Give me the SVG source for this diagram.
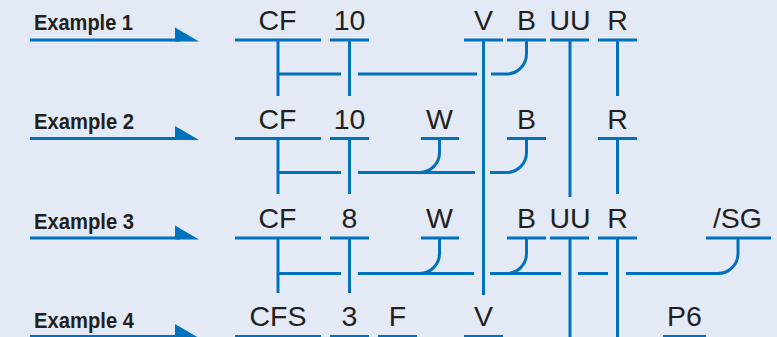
<svg xmlns="http://www.w3.org/2000/svg" width="777" height="337" viewBox="0 0 777 337">
<style>
.bg{fill:#e3e9f5}
.ln{fill:none;stroke:#0071bc;stroke-width:3;stroke-linecap:butt}
.ah{fill:#0071bc}
.ex{font-family:"Liberation Sans Narrow","Liberation Sans",Arial,sans-serif;font-weight:bold;font-size:22.5px;fill:#231f20}
.el{font-family:"Liberation Sans",Arial,Helvetica,sans-serif;font-size:28.5px;fill:#231f20;text-anchor:middle}
</style>
<rect class="bg" x="0" y="0" width="777" height="337"/>

<g id="example1">
<text class="ex" x="34" y="30" textLength="99" lengthAdjust="spacingAndGlyphs">Example 1</text>
<path class="ln" d="M30,40 H180"/><polygon class="ah" points="175,27.5 199,41.5 175,41.5"/>
</g>
<g id="example2">
<text class="ex" x="34" y="129" textLength="100" lengthAdjust="spacingAndGlyphs">Example 2</text>
<path class="ln" d="M30,138.5 H180"/><polygon class="ah" points="175,126 199,140 175,140"/>
</g>
<g id="example3">
<text class="ex" x="34" y="228.5" textLength="100" lengthAdjust="spacingAndGlyphs">Example 3</text>
<path class="ln" d="M30,238 H180"/><polygon class="ah" points="175,225.5 199,239.5 175,239.5"/>
</g>
<g id="example4">
<text class="ex" x="34" y="327.5" textLength="100" lengthAdjust="spacingAndGlyphs">Example 4</text>
<path class="ln" d="M30,336.5 H180"/><polygon class="ah" points="175,324 199,338 175,338"/>
</g>

<!-- Row 1 -->
<g id="r1-CF"><text class="el" x="277.5" y="29.5">CF</text><path class="ln" d="M235,40 H321"/></g>
<g id="r1-10"><text class="el" x="349.5" y="29.5">10</text><path class="ln" d="M330,40 H369"/></g>
<g id="r1-V"><text class="el" x="483.5" y="29.5">V</text><path class="ln" d="M464,40 H503"/></g>
<g id="r1-B"><text class="el" x="526.5" y="29.5">B</text><path class="ln" d="M507,40 H546"/></g>
<g id="r1-UU"><text class="el" x="570" y="29.5">UU</text><path class="ln" d="M550,40 H589"/></g>
<g id="r1-R"><text class="el" x="617.5" y="29.5">R</text><path class="ln" d="M598,40 H637"/></g>

<!-- Row 2 -->
<g id="r2-CF"><text class="el" x="277.5" y="128.5">CF</text><path class="ln" d="M235,138.5 H321"/></g>
<g id="r2-10"><text class="el" x="349.5" y="128.5">10</text><path class="ln" d="M330,138.5 H369"/></g>
<g id="r2-W"><text class="el" x="439.5" y="128.5">W</text><path class="ln" d="M421,138.5 H459"/></g>
<g id="r2-B"><text class="el" x="526.5" y="128.5">B</text><path class="ln" d="M507,138.5 H546"/></g>
<g id="r2-R"><text class="el" x="617.5" y="128.5">R</text><path class="ln" d="M598,138.5 H637"/></g>

<!-- Row 3 -->
<g id="r3-CF"><text class="el" x="277.5" y="228">CF</text><path class="ln" d="M235,238 H321"/></g>
<g id="r3-8"><text class="el" x="349.5" y="228">8</text><path class="ln" d="M330,238 H369"/></g>
<g id="r3-W"><text class="el" x="439.5" y="228">W</text><path class="ln" d="M421,238 H459"/></g>
<g id="r3-B"><text class="el" x="526.5" y="228">B</text><path class="ln" d="M507,238 H546"/></g>
<g id="r3-UU"><text class="el" x="570" y="228">UU</text><path class="ln" d="M550,238 H589"/></g>
<g id="r3-R"><text class="el" x="617.5" y="228">R</text><path class="ln" d="M598,238 H637"/></g>
<g id="r3-SG"><text class="el" x="737.5" y="228">/SG</text><path class="ln" d="M706,238 H771"/></g>

<!-- Row 4 -->
<g id="r4-CFS"><text class="el" x="278" y="326">CFS</text><path class="ln" d="M235,336.5 H321"/></g>
<g id="r4-3"><text class="el" x="349.5" y="326">3</text><path class="ln" d="M330,336.5 H369"/></g>
<g id="r4-F"><text class="el" x="397.5" y="326">F</text><path class="ln" d="M378,336.5 H417"/></g>
<g id="r4-V"><text class="el" x="483.5" y="326">V</text><path class="ln" d="M464,336.5 H503"/></g>
<g id="r4-P6"><text class="el" x="684.5" y="326">P6</text><path class="ln" d="M663,336.5 H706"/></g>

<g id="connectors">
<!-- row 1 -->
<path class="ln" d="M278,40 V96"/>
<path class="ln" d="M349.5,40 V96"/>
<path class="ln" d="M278,74 H341 M358,74 H477"/>
<path class="ln" d="M491,74 H506.5 A20,20 0 0 0 526.5,54 V40"/>
<path class="ln" d="M483.5,40 V295"/>
<path class="ln" d="M570,40 V197"/>
<path class="ln" d="M617.5,40 V96"/>
<!-- row 2 -->
<path class="ln" d="M278,138.5 V194"/>
<path class="ln" d="M349.5,138.5 V194"/>
<path class="ln" d="M278,172.5 H341 M358,172.5 H475"/>
<path class="ln" d="M419.5,172.5 A20,20 0 0 0 439.5,152.5 V138.5"/>
<path class="ln" d="M490,172.5 H506.5 A20,20 0 0 0 526.5,152.5 V138.5"/>
<path class="ln" d="M617.5,138.5 V194"/>
<!-- row 3 -->
<path class="ln" d="M278,238 V293"/>
<path class="ln" d="M349.5,238 V293"/>
<path class="ln" d="M278,273.5 H341 M358,273.5 H474"/>
<path class="ln" d="M419.5,273.5 A20,20 0 0 0 439.5,253.5 V238"/>
<path class="ln" d="M490,273.5 H561"/>
<path class="ln" d="M506.5,273.5 A20,20 0 0 0 526.5,253.5 V238"/>
<path class="ln" d="M570,238 V337"/>
<path class="ln" d="M578,273.5 H608"/>
<path class="ln" d="M617.5,238 V337"/>
<path class="ln" d="M626,273.5 H718 A20,20 0 0 0 738,253.5 V238"/>
</g>
</svg>
